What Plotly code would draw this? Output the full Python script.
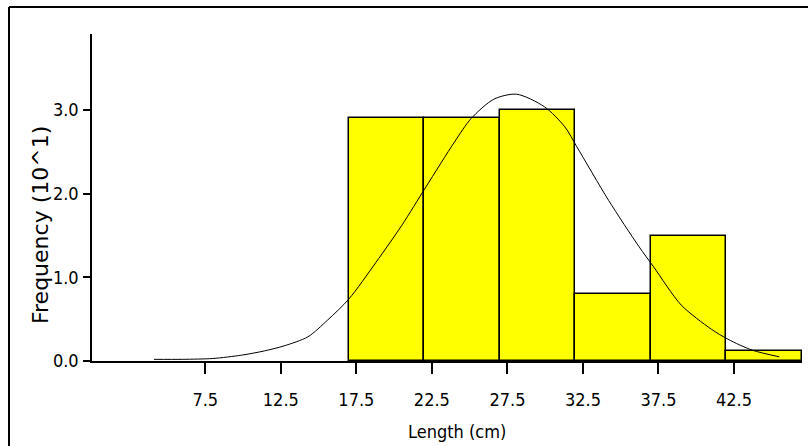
import plotly.graph_objects as go

# Histogram bins (cm) and frequencies (x10)
bin_centers = [19.5, 24.5, 29.5, 34.5, 39.5, 44.5]
bin_width = [5, 5, 5, 5, 5, 5]
freq = [2.9, 2.9, 3.0, 0.8, 1.5, 0.12]

# Fitted normal curve
curve_x = [4.1, 6.0, 8.0, 9.9, 11.4, 12.7, 14.3, 15.6, 17.0, 18.8, 20.5, 22.1,
           24.0, 25.1, 26.6, 28.1, 29.95, 31.3, 32.1, 34.2, 36.2, 37.2, 39.0,
           41.0, 42.1, 43.7, 45.5]
curve_y = [0.02, 0.02, 0.03, 0.07, 0.12, 0.18, 0.29, 0.49, 0.74, 1.18, 1.62, 2.08,
           2.62, 2.90, 3.13, 3.19, 3.04, 2.80, 2.56, 1.92, 1.37, 1.12, 0.67,
           0.38, 0.26, 0.13, 0.05]

x_ticks = [7.5, 12.5, 17.5, 22.5, 27.5, 32.5, 37.5, 42.5]
y_ticks = [0.0, 1.0, 2.0, 3.0]

narrow = "DejaVu Sans Condensed, Liberation Sans Narrow, sans-serif"

fig = go.Figure()
fig.add_trace(go.Bar(x=bin_centers, y=freq, width=bin_width,
                     marker=dict(color="#FFFF00", line=dict(color="black", width=1.5)),
                     showlegend=False, hoverinfo="skip"))
fig.add_trace(go.Scatter(x=curve_x, y=curve_y, mode="lines",
                         line=dict(color="black", width=1, shape="spline", smoothing=0.8),
                         showlegend=False, hoverinfo="skip"))

W, H = 808, 446
L, R, T, B = 92, 6, 34, 85
pw, ph = W - L - R, H - T - B

def px(xp):
    return (xp - L) / pw

def py(yp):
    return (H - B - yp) / ph

fig.update_layout(
    width=W, height=H,
    margin=dict(l=L, r=R, t=T, b=B),
    paper_bgcolor="white", plot_bgcolor="white",
    bargap=0,
    xaxis=dict(range=[0, 47], tickvals=x_ticks, ticktext=[f"{v:.1f}" for v in x_ticks],
               showline=True, linecolor="black", linewidth=1.5,
               ticks="outside", ticklen=11, tickcolor="black", tickwidth=1.5,
               ticklabelstandoff=11,
               showgrid=False, zeroline=False,
               tickfont=dict(family=narrow, size=18, color="black")),
    yaxis=dict(range=[0, 3.91], tickvals=y_ticks, ticktext=[f"{v:.1f}" for v in y_ticks],
               showline=True, linecolor="black", linewidth=1.5,
               ticks="outside", ticklen=7, tickcolor="black", tickwidth=1.5,
               ticklabelstandoff=1,
               showgrid=False, zeroline=False,
               tickfont=dict(family=narrow, size=18, color="black")),
    annotations=[
        dict(text="Length (cm)", xref="paper", yref="paper", x=px(457), y=py(431),
             xanchor="center", yanchor="middle", showarrow=False,
             font=dict(family=narrow, size=18, color="black")),
        dict(text="Frequency (10^1)", xref="paper", yref="paper", x=px(40), y=py(225),
             xanchor="center", yanchor="middle", showarrow=False, textangle=-90,
             font=dict(family="DejaVu Sans, sans-serif", size=22, color="black")),
    ],
    shapes=[
        # frame top & left
        dict(type="line", xref="paper", yref="paper", x0=px(9), x1=px(812), y0=py(7), y1=py(7),
             line=dict(color="black", width=2)),
        dict(type="line", xref="paper", yref="paper", x0=px(9), x1=px(9), y0=py(7), y1=py(450),
             line=dict(color="black", width=2)),
        # x axis extension left of y axis
        dict(type="line", xref="paper", yref="paper", x0=px(84), x1=0, y0=0, y1=0,
             line=dict(color="black", width=1.5)),
    ],
)

fig.write_html("out.html")
